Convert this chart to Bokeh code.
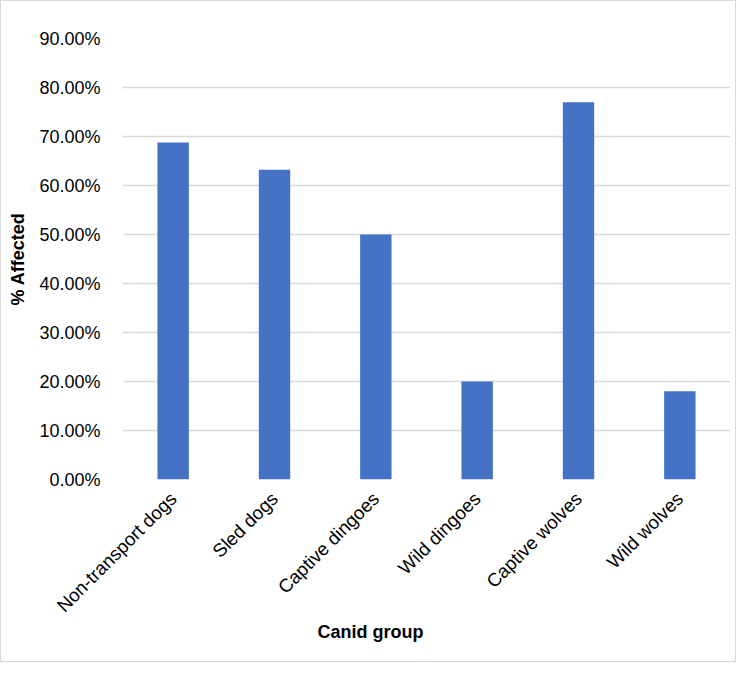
import math
from bokeh.plotting import figure
from bokeh.models import ColumnDataSource, Range1d, NumeralTickFormatter, FactorRange, Title
from bokeh.embed import file_html
from bokeh.resources import INLINE

groups = ["Non-transport dogs", "Sled dogs", "Captive dingoes", "Wild dingoes", "Captive wolves", "Wild wolves"]
affected = [0.688, 0.632, 0.50, 0.20, 0.77, 0.18]
y_ticks = [0.0, 0.1, 0.2, 0.3, 0.4, 0.5, 0.6, 0.7, 0.8, 0.9]

src = ColumnDataSource(data=dict(group=groups, affected=affected))

FONT = "Liberation Sans"

p = figure(x_range=FactorRange(*groups, range_padding=0), y_range=Range1d(0, 0.9),
           width=736, height=662, output_backend="svg", toolbar_location=None,
           min_border_left=121, min_border_right=7, min_border_top=37, min_border_bottom=184)
p.styles = {"border": "1px solid #d9d9d9", "box-sizing": "border-box"}

p.vbar(x="group", top="affected", width=0.31, source=src, color="#4472C4", line_color=None)

p.outline_line_color = None
p.xgrid.grid_line_color = None
p.ygrid.grid_line_color = "#d9d9d9"
p.ygrid.grid_line_width = 1.3

p.yaxis.ticker = y_ticks
p.yaxis.formatter = NumeralTickFormatter(format="0.00%")
p.yaxis.axis_line_color = None
p.yaxis.major_tick_line_color = None
p.yaxis.minor_tick_line_color = None
p.yaxis.major_label_text_font = FONT
p.yaxis.major_label_text_font_size = "18px"
p.yaxis.major_label_text_color = "#000000"
p.yaxis.major_label_standoff = 16
p.yaxis.axis_label = "% Affected"
p.yaxis.axis_label_text_font = FONT
p.yaxis.axis_label_text_font_size = "18px"
p.yaxis.axis_label_text_font_style = "bold"
p.yaxis.axis_label_text_color = "#000000"
p.yaxis.axis_label_standoff = 8

p.xaxis.axis_line_color = None
p.xaxis.major_tick_line_color = None
p.xaxis.minor_tick_line_color = None
p.xaxis.major_label_orientation = math.pi / 4
p.xaxis.major_label_text_font = FONT
p.xaxis.major_label_text_font_size = "18.7px"
p.xaxis.major_label_text_color = "#000000"
p.xaxis.major_label_standoff = 10

xtitle = Title(text="Canid group", align="left", offset=195, standoff=-13,
               text_font=FONT, text_font_size="18px", text_font_style="bold", text_color="#000000")
p.add_layout(xtitle, "below")

open("out.html", "w").write(file_html(p, INLINE))
